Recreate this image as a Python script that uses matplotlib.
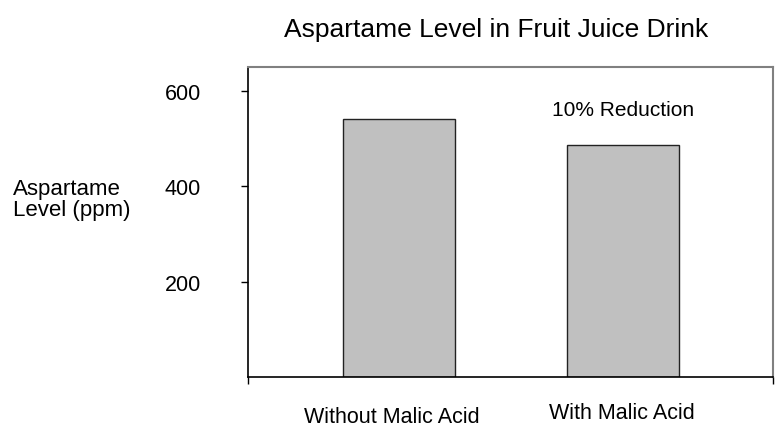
import matplotlib
matplotlib.use("Agg")
import matplotlib.pyplot as plt

categories = ["Without Malic Acid", "With Malic Acid"]
values = [540, 486]
yticks = [200, 400, 600]
title = "Aspartame Level in Fruit Juice Drink"
annotation = "10% Reduction"

plt.rcParams['font.family'] = ['Liberation Sans', 'DejaVu Sans']

fig = plt.figure(figsize=(7.8, 4.27), dpi=100)
ax = fig.add_axes([248/780, 1-378/427, (773-248)/780, (378-68)/427])

x = list(range(len(categories)))
ax.bar(x, values, width=0.5, color='#C0C0C0', edgecolor='#222222', linewidth=1.0)
ax.set_xlim(-0.674, 1.67)
ax.set_ylim(0, 650)
ax.set_yticks(yticks)
ax.set_yticklabels([str(t) for t in yticks], fontsize=15.5)
ax.tick_params(axis='y', direction='out', length=5, width=1, pad=29, colors='black')
ax.set_xticks([-0.674, 1.67])
ax.set_xticklabels(['', ''])
ax.tick_params(axis='x', direction='out', length=5, width=1)
for s in ['top', 'right']:
    ax.spines[s].set_color('#808080')
    ax.spines[s].set_linewidth(1.5)
for s in ['left', 'bottom']:
    ax.spines[s].set_color('black')
    ax.spines[s].set_linewidth(1.2)

fig.text(496/780, 1-30/427, title, ha='center', va='center', fontsize=19)
ax.text(1, 560, annotation, ha='center', va='center', fontsize=15)
fig.text(392/780, 1-418/427, categories[0], ha='center', va='center', fontsize=15.5)
fig.text(622/780, 1-414/427, categories[1], ha='center', va='center', fontsize=15.5)
fig.text(13/780, 1-200/427, "Aspartame\nLevel (ppm)", ha='left', va='center', fontsize=16, linespacing=1.0)

fig.savefig("out.png", dpi=100)
